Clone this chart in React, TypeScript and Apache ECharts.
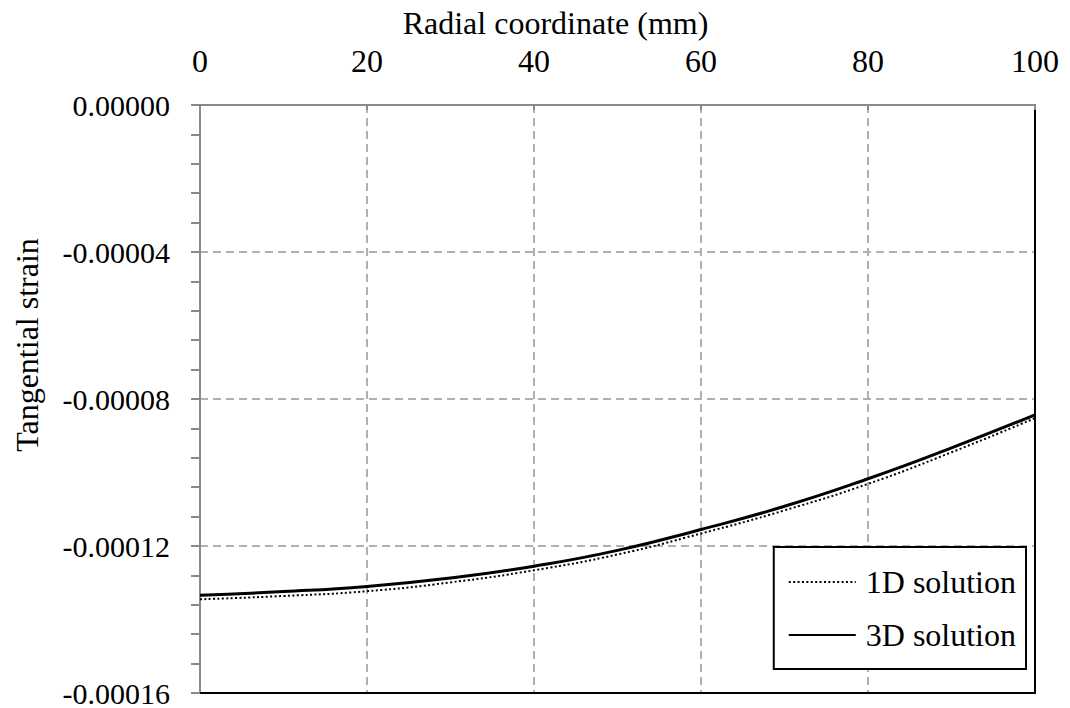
import React, { useEffect, useRef } from "react";
import * as echarts from "echarts";

const radialMm = [0, 10, 20, 30, 40, 50, 60, 70, 80, 90, 100];
const strain1D = [-0.0001345, -0.0001336, -0.0001323, -0.0001299, -0.0001266, -0.0001223, -0.0001166, -0.0001103, -0.0001031, -0.0000945, -0.0000852];
const strain3D = [-0.0001334, -0.0001324, -0.000131, -0.0001287, -0.0001255, -0.0001212, -0.0001155, -0.0001092, -0.0001017, -0.0000933, -0.0000843];
const seriesNames = ["1D solution", "3D solution"];
const xTitle = "Radial coordinate (mm)";
const yTitle = "Tangential strain";

const FONT = "'Liberation Serif', 'Times New Roman', serif";

export default function App() {
  const ref = useRef<HTMLDivElement>(null);
  useEffect(() => {
    if (!ref.current) return;
    const chart = echarts.init(ref.current, undefined, { renderer: "svg" });
    const gray = "#8a8a8a";
    const gridColor = "#b0b0b0";
    chart.setOption({
      animation: false,
      backgroundColor: "#ffffff",
      textStyle: { fontFamily: FONT, color: "#000" },
      grid: { left: 200, top: 105, right: 35, bottom: 13, containLabel: false },
      legend: {
        orient: "vertical",
        right: 44,
        top: 547,
        backgroundColor: "#ffffff",
        borderColor: "#000",
        borderWidth: 2,
        borderRadius: 0,
        padding: [19, 10, 18, 14],
        itemWidth: 67,
        itemHeight: 20,
        itemGap: 21,
        itemStyle: { opacity: 0 },
        textStyle: { fontFamily: FONT, fontSize: 32, color: "#000", padding: [0, 0, 0, 5] },
        data: seriesNames,
      },
      xAxis: [
        {
          type: "value",
          position: "top",
          min: 0,
          max: 100,
          interval: 20,
          name: xTitle,
          nameLocation: "middle",
          nameGap: 66,
          nameTextStyle: { fontFamily: FONT, fontSize: 32, color: "#000", padding: [0, 124, 0, 0] },
          axisLine: { show: true, lineStyle: { color: gray, width: 2 } },
          axisTick: { show: true, inside: true, length: 5, lineStyle: { color: gray, width: 2 } },
          axisLabel: { fontFamily: FONT, fontSize: 32, color: "#000", margin: 28 },
          splitLine: { show: true, lineStyle: { color: gridColor, width: 2, type: [8, 5] } },
        },
        {
          type: "value",
          position: "bottom",
          min: 0,
          max: 100,
          axisLine: { show: true, onZero: false, lineStyle: { color: "#000", width: 2 } },
          axisTick: { show: false },
          axisLabel: { show: false },
          splitLine: { show: false },
        },
      ],
      yAxis: [
        {
          type: "value",
          min: -0.00016,
          max: 0,
          interval: 0.00004,
          name: yTitle,
          nameLocation: "middle",
          nameGap: 157,
          nameTextStyle: { fontFamily: FONT, fontSize: 32, color: "#000", padding: [0, 0, 0, 108] },
          axisLine: { show: true, onZero: false, lineStyle: { color: gray, width: 2 } },
          axisTick: { show: true, inside: false, length: 9, lineStyle: { color: gray, width: 2 } },
          minorTick: { show: true, splitNumber: 5, length: 9, lineStyle: { color: gray, width: 2 } },
          axisLabel: {
            fontFamily: FONT,
            fontSize: 30,
            color: "#000",
            margin: 30,
            formatter: (v: number) => (Math.abs(v) < 1e-12 ? "0.00000" : v.toFixed(5)),
          },
          splitLine: { show: true, lineStyle: { color: gridColor, width: 2, type: [8, 5] } },
        },
        {
          type: "value",
          position: "right",
          min: -0.00016,
          max: 0,
          axisLine: { show: true, onZero: false, lineStyle: { color: "#000", width: 2 } },
          axisTick: { show: false },
          axisLabel: { show: false },
          splitLine: { show: false },
        },
      ],
      series: [
        {
          name: seriesNames[0],
          type: "line",
          smooth: true,
          symbol: "none",
          xAxisIndex: 0,
          yAxisIndex: 0,
          data: radialMm.map((x, i) => [x, strain1D[i]]),
          lineStyle: { color: "#000", width: 2, type: [2, 2.4] },
          itemStyle: { color: "#000" },
          z: 3,
        },
        {
          name: seriesNames[1],
          type: "line",
          smooth: true,
          symbol: "none",
          xAxisIndex: 0,
          yAxisIndex: 0,
          data: radialMm.map((x, i) => [x, strain3D[i]]),
          lineStyle: { color: "#000", width: 3, type: "solid" },
          itemStyle: { color: "#000" },
          z: 4,
        },
      ],
    });
    return () => chart.dispose();
  }, []);
  return (
    <div
      ref={ref}
      style={{ position: "absolute", left: 0, top: 0, width: 1070, height: 708 }}
    />
  );
}
